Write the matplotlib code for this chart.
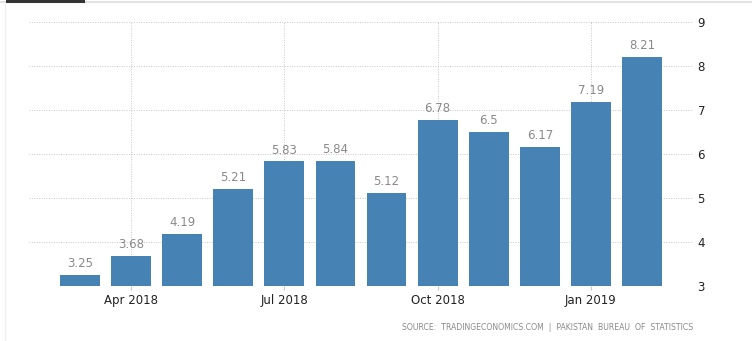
import matplotlib
matplotlib.use("Agg")
import matplotlib.pyplot as plt
from matplotlib.lines import Line2D

# Pakistan inflation rate, monthly (%)
months = ["Mar 2018", "Apr 2018", "May 2018", "Jun 2018", "Jul 2018", "Aug 2018",
          "Sep 2018", "Oct 2018", "Nov 2018", "Dec 2018", "Jan 2019", "Feb 2019"]
values = [3.25, 3.68, 4.19, 5.21, 5.83, 5.84, 5.12, 6.78, 6.5, 6.17, 7.19, 8.21]
value_labels = ["3.25", "3.68", "4.19", "5.21", "5.83", "5.84", "5.12", "6.78", "6.5", "6.17", "7.19", "8.21"]
tick_months = ["Apr 2018", "Jul 2018", "Oct 2018", "Jan 2019"]
y_ticks = [3, 4, 5, 6, 7, 8, 9]
source = "SOURCE:  TRADINGECONOMICS.COM  |  PAKISTAN  BUREAU  OF  STATISTICS"

W, H = 752, 341
fig = plt.figure(figsize=(W / 100, H / 100), dpi=100)
ax = fig.add_axes([29 / W, (H - 286) / H, (692 - 29) / W, (286 - 22) / H])

x = list(range(len(months)))
ax.bar(x, [v - 3 for v in values], bottom=3, width=0.78, color="#4682b4", zorder=3)
for xi, v, lab in zip(x, values, value_labels):
    ax.annotate(lab, (xi, v), xytext=(0, 3.5), textcoords="offset points",
                ha="center", va="bottom", fontsize=8.5, color="#8a8a8a")

ax.set_xlim(-1.0, 11.98)
ax.set_ylim(3, 9)

tick_pos = [months.index(m) for m in tick_months]
ax.set_xticks(tick_pos)
ax.set_xticklabels(tick_months, fontsize=8.5, color="#222222")
ax.tick_params(axis="x", length=3, color="#c8c8c8", pad=3)

ax.yaxis.tick_right()
ax.set_yticks(y_ticks)
ax.set_yticklabels([str(t) for t in y_ticks], fontsize=8.5, color="#222222")
ax.tick_params(axis="y", length=0, pad=4)

ax.grid(True, which="major", axis="both", linestyle=(0, (1, 1.5)),
        color="#c8c8c8", linewidth=0.7, zorder=0)
for s in ax.spines.values():
    s.set_visible(False)

# frame decorations along the top and left edges
fig.add_artist(Line2D([0, 1], [1 - 1.5 / H, 1 - 1.5 / H], color="#dddddd", lw=1.2))
fig.add_artist(Line2D([7 / W, 83 / W], [1 - 1 / H, 1 - 1 / H], color="#333333", lw=2.2))
fig.add_artist(Line2D([5 / W, 5 / W], [0, 1 - 3 / H], color="#f0f0f0", lw=1))

fig.text(693 / W, 1 - 328 / H, source, ha="right", va="center",
         fontsize=5.6, color="#8a8a8a")

fig.savefig("out.png", dpi=100, facecolor="white")
